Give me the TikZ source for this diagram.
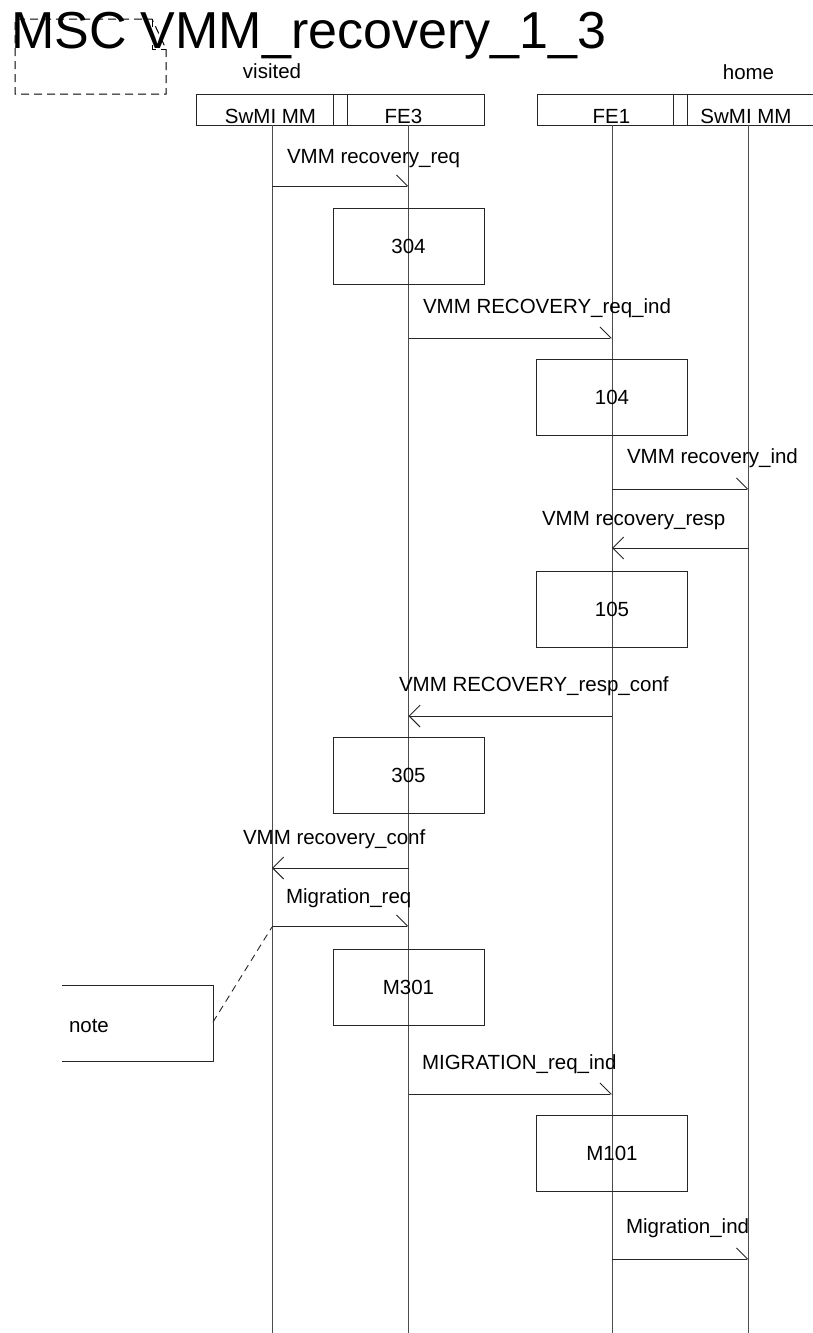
\documentclass[tikz,border=0pt]{standalone}
\usepackage{fontspec}
\setmainfont{Liberation Sans}
\usetikzlibrary{arrows.meta}
\begin{document}
\begin{tikzpicture}[x=1pt,y=-1pt,
  every node/.style={inner sep=0pt, outer sep=0pt, font=\fontsize{20.5}{24}\selectfont},
  ln/.style={line width=0.9pt, draw=black!85},
  lifeln/.style={line width=0.9pt, draw=black!70},
  msgR/.style={ln, -{Straight Barb[left,length=11pt,width=22pt]}},
  msgL/.style={ln, -{Straight Barb[length=11pt,width=22pt]}},
  actbox/.style={ln, rectangle, minimum width=151pt, minimum height=76pt, anchor=center},
  lbl/.style={anchor=base west},
  hdr/.style={anchor=base},
  dsh/.style={line width=1pt, draw=black, dash pattern=on 8pt off 5pt},
]
\useasboundingbox (0,0) rectangle (813,1333);

% dashed frame symbol
\draw[dsh] (166,49) -- (166,94) -- (15,94) -- (15,19) -- (152,19) -- (166,49);
\draw[dsh] (152,19) -- (152,49) -- (166,49);

% title
\node[anchor=base west, font=\fontsize{52}{60}\selectfont] (title) at (11,48) {MSC VMM\_recovery\_1\_3};

% environment labels
\node[hdr] (visited) at (272,78) {visited};
\node[hdr] (home) at (748.5,79) {home};

% header boxes
\node[ln, draw, rectangle, minimum width=288pt, minimum height=31pt] (hdrV) at (340,109.5) {};
\draw[ln] (333,94) -- (333,125);
\draw[ln] (347,94) -- (347,125);
\draw[ln] (813,94) -- (537,94) -- (537,125) -- (813,125);
\draw[ln] (673,94) -- (673,125);
\draw[ln] (687,94) -- (687,125);

\node[hdr] (nSw1) at (270.5,123) {SwMI MM};
\node[hdr] (nFE3) at (403.5,123) {FE3};
\node[hdr] (nFE1) at (611.5,123) {FE1};
\node[hdr] (nSw2) at (746,123) {SwMI MM};

% lifelines
\coordinate (l1) at (272,125);
\coordinate (l2) at (408.5,125);
\coordinate (l3) at (612,125);
\coordinate (l4) at (748.5,125);
\coordinate (l1e) at (272,1333);
\coordinate (l2e) at (408.5,1333);
\coordinate (l3e) at (612,1333);
\coordinate (l4e) at (748.5,1333);
\draw[lifeln] (l1) -- (l1e);
\draw[lifeln] (l2) -- (l2e);
\draw[lifeln] (l3) -- (l3e);
\draw[lifeln] (l4) -- (l4e);

% action boxes
\node[actbox, draw] (b304) at (408.5,246) {304};
\node[actbox, draw] (b104) at (612,397) {104};
\node[actbox, draw] (b105) at (612,609.5) {105};
\node[actbox, draw] (b305) at (408.5,775) {305};
\node[actbox, draw] (bM301) at (408.5,987.5) {M301};
\node[actbox, draw] (bM101) at (612,1153) {M101};

% messages
\draw[msgR] (l1 |- 0,186) -- (l2 |- 0,186);
\node[lbl] (m1) at (287,163) {VMM recovery\_req};

\draw[msgR] (l2 |- 0,338) -- (l3 |- 0,338);
\node[lbl] (m2) at (423,313) {VMM RECOVERY\_req\_ind};

\draw[msgR] (l3 |- 0,489) -- (l4 |- 0,489);
\node[lbl] (m3) at (627,463) {VMM recovery\_ind};

\draw[msgL] (l4 |- 0,548) -- (l3 |- 0,548);
\node[lbl] (m4) at (542,525) {VMM recovery\_resp};

\draw[msgL] (l3 |- 0,716) -- (l2 |- 0,716);
\node[lbl] (m5) at (399,691) {VMM RECOVERY\_resp\_conf};

\draw[msgL] (l2 |- 0,868) -- (l1 |- 0,868);
\node[lbl] (m6) at (243,844) {VMM recovery\_conf};

\draw[msgR] (l1 |- 0,926) -- (l2 |- 0,926);
\node[lbl] (m7) at (286,903) {Migration\_req};

\draw[msgR] (l2 |- 0,1094) -- (l3 |- 0,1094);
\node[lbl] (m8) at (422,1069) {MIGRATION\_req\_ind};

\draw[msgR] (l3 |- 0,1259) -- (l4 |- 0,1259);
\node[lbl] (m9) at (626,1233) {Migration\_ind};

% note
\draw[ln] (62,985) -- (213,985) -- (213,1061) -- (62,1061);
\node[lbl] (notetxt) at (69,1032) {note};
\coordinate (noteR) at (213,1022);
\draw[ln, dash pattern=on 7pt off 5pt] (noteR) -- (l1 |- 0,927);
\end{tikzpicture}
\end{document}
